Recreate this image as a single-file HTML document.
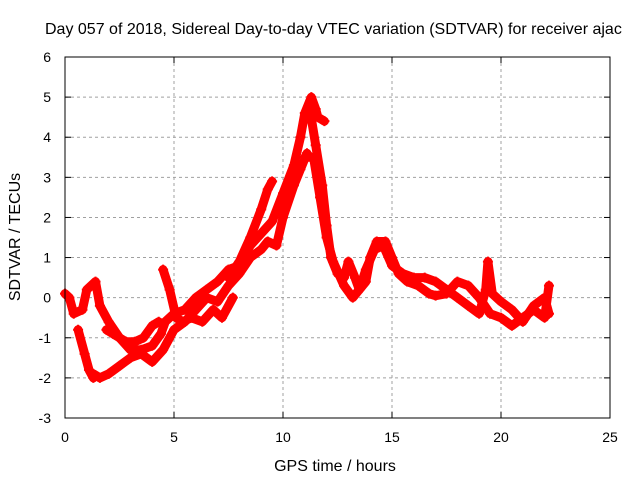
<!DOCTYPE html>
<html><head><meta charset="utf-8"><style>
body{margin:0;background:#fff}
svg{display:block;font-family:"Liberation Sans",sans-serif}
</style></head><body>
<svg id="chart" width="640" height="480">
<rect width="640" height="480" fill="#fff"/>
<text x="45" y="34" font-size="16" text-anchor="start">Day 057 of 2018, Sidereal Day-to-day VTEC variation (SDTVAR) for receiver ajac</text>
<text x="335" y="471" font-size="16" text-anchor="middle">GPS time / hours</text>
<text transform="translate(20,237) rotate(-90)" font-size="16" text-anchor="middle">SDTVAR / TECUs</text>
<g id="grid"></g><g id="axes"></g><g id="marks"></g>
<rect x="65" y="57" width="545" height="361" fill="none" stroke="#000" stroke-width="1"/>
</svg>
<script>
const xTicks=[0,5,10,15,20,25];
const yTicks=[-3,-2,-1,0,1,2,3,4,5,6];
const trackA=[[0,0.1],[0.2,0],[0.4,-0.4],[0.8,-0.3],[1.0,0.2],[1.4,0.4],[1.6,-0.2],[2.0,-0.6],[2.5,-1.0],[3.0,-1.3],[3.5,-1.3],[4.0,-1.2],[4.4,-0.9],[4.6,-0.6],[5.0,-0.4],[5.5,-0.3],[6.0,0],[6.5,0.2],[7.0,0.4],[7.5,0.7],[8.0,0.8],[8.5,1.3],[9.0,1.6],[9.5,1.9],[10.0,2.6],[10.5,3.3],[10.8,4.0],[11.0,4.6],[11.3,5.0],[11.5,4.7],[11.6,4.5],[11.9,4.4]];
const trackB=[[11.2,4.8],[11.5,3.8],[11.8,2.8],[12.0,1.8],[12.2,1.0],[12.5,0.6],[12.8,0.5],[13.0,0.9],[13.3,0.5],[13.5,0.2],[13.8,0.4],[14.0,1.0],[14.3,1.4],[14.7,1.4],[15.0,1.0],[15.3,0.6],[15.7,0.4],[16.2,0.3],[16.7,0.1],[17.0,0.05],[17.5,0.1],[18.0,0.4],[18.5,0.3],[19,0],[19.5,-0.4],[20,-0.5],[20.5,-0.7],[21,-0.5],[21.5,-0.3],[22,-0.5],[22.2,0.3]];
const trackC=[[11.0,3.5],[11.4,3.5],[11.7,2.5],[12.0,1.5],[12.3,0.9],[12.8,0.3],[13.2,0.0],[13.5,0.2],[13.8,0.7],[14.2,1.2],[14.6,1.3],[15.0,0.8],[15.5,0.6],[16,0.5],[16.5,0.5],[17,0.4],[17.5,0.2],[18,0.0],[18.5,-0.2],[19,-0.4],[19.3,0.2],[19.4,0.9],[19.6,0.1],[20,-0.1],[20.5,-0.3],[21,-0.6],[21.5,-0.2],[22,0.0],[22.2,-0.4]];
const trackD=[[1.3,-1.9],[1.6,-2.0],[2.0,-1.9],[2.5,-1.7],[3.0,-1.5],[3.5,-1.4],[4.0,-1.6],[4.5,-1.3],[5.0,-0.8],[5.5,-0.6],[6.0,-0.3],[6.5,0.0],[7.0,-0.1],[7.5,0.3],[8.0,0.6],[8.5,1.0],[9.0,1.2],[9.3,1.4],[9.7,1.3],[10,2.0],[10.5,2.8],[10.8,3.2],[11.1,3.6]];
const trackE=[[7.5,0.5],[8.0,0.9],[8.5,1.5],[9.0,2.2],[9.3,2.7],[9.5,2.9]];
const trackF=[[0.6,-0.8],[0.9,-1.4],[1.1,-1.8],[1.3,-2.0]];
const trackG=[[4.5,0.7],[4.8,0.2],[5.1,-0.5],[5.4,-0.6],[5.8,-0.5],[6.3,-0.6],[6.8,-0.3],[7.2,-0.5],[7.7,0]];
const trackH=[[1.9,-0.8],[2.2,-0.9],[2.8,-1.1],[3.2,-1.1],[3.6,-1.0],[4.0,-0.7],[4.3,-0.6]];
const tracks=[trackA,trackB,trackC,trackD,trackE,trackF,trackG,trackH];
const X=v=>65+v*(545/25), Y=v=>418-(v+3)*(361/9);
const NS="http://www.w3.org/2000/svg";
function mk(t,a,p){const e=document.createElementNS(NS,t);for(const k in a)e.setAttribute(k,a[k]);p.appendChild(e);return e;}
const grid=document.getElementById('grid'),axes=document.getElementById('axes'),marks=document.getElementById('marks');
xTicks.forEach(t=>{
 if(t>0&&t<25){const l=mk('line',{x1:X(t),x2:X(t),y1:57,y2:418,stroke:'#a0a0a0','stroke-dasharray':'3,3'},grid);
 
 }
 mk('line',{x1:X(t),x2:X(t),y1:418,y2:412,stroke:'#000'},axes);
 mk('line',{x1:X(t),x2:X(t),y1:57,y2:63,stroke:'#000'},axes);
 const tx=mk('text',{x:X(t),y:442,'font-size':14,'text-anchor':'middle'},axes);tx.textContent=t;
 
 
});
yTicks.forEach(t=>{
 if(t>-3&&t<6){const l=mk('line',{x1:65,x2:610,y1:Y(t),y2:Y(t),stroke:'#a0a0a0','stroke-dasharray':'3,3'},grid);
 
 }
 mk('line',{x1:65,x2:71,y1:Y(t),y2:Y(t),stroke:'#000'},axes);
 mk('line',{x1:604,x2:610,y1:Y(t),y2:Y(t),stroke:'#000'},axes);
 const tx=mk('text',{x:51,y:Y(t)+5,'font-size':14,'text-anchor':'end'},axes);tx.textContent=t;
 
 
});
tracks.forEach((tr,i)=>{
 const pl=mk('polyline',{points:tr.map(p=>X(p[0])+','+Y(p[1])).join(' '),fill:'none',stroke:'#ff0000','stroke-width':9,'stroke-linejoin':'round','stroke-linecap':'round'},marks);
 
 
 tr.forEach(p=>{
  const g=mk('path',{d:`M${X(p[0])-5},${Y(p[1])}h10M${X(p[0])},${Y(p[1])-5}v10`,stroke:'#ff0000','stroke-width':2},marks);
  
  
 });
});
</script>
</body></html>
